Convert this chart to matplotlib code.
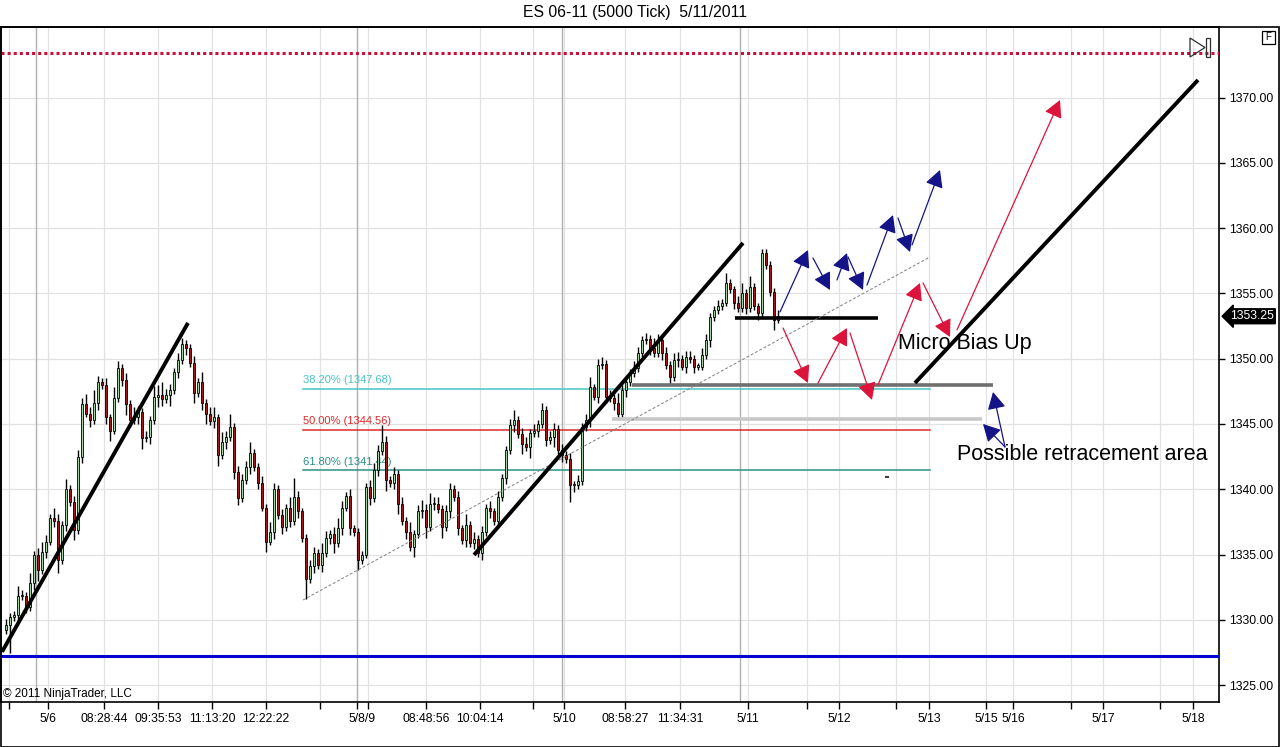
import matplotlib
matplotlib.use("Agg")
import matplotlib.pyplot as plt
from matplotlib.patches import Rectangle, Polygon
from matplotlib.transforms import blended_transform_factory
import numpy as np

plt.rcParams['font.family'] = ['Liberation Sans', 'DejaVu Sans']

# ---------------- data ----------------
title = "ES 06-11 (5000 Tick)  5/11/2011"

closes = [
    1329.6, 1330.2, 1330.4, 1331.8, 1331.8, 1331.0, 1332.8, 1335.0, 1333.8, 1335.2,
    1336.0, 1337.8, 1337.6, 1334.6, 1337.3, 1340.0, 1339.0, 1336.9, 1342.5, 1346.5,
    1345.8, 1345.3, 1346.6, 1348.2, 1348.0, 1345.5, 1344.5, 1347.0, 1349.3, 1348.4,
    1346.5, 1345.3, 1345.5, 1345.9, 1343.9, 1344.0, 1345.3, 1347.1, 1347.2, 1346.9,
    1347.2, 1347.6, 1349.0, 1349.9, 1351.1, 1350.8, 1349.7, 1347.4, 1348.2, 1346.6,
    1345.8, 1345.2, 1345.5, 1342.6, 1343.6, 1344.0, 1344.8, 1341.3, 1339.3, 1340.7,
    1341.7, 1342.8, 1341.7, 1340.5, 1338.6, 1336.0, 1336.7, 1340.0, 1338.0, 1337.1,
    1338.6, 1337.6, 1339.4, 1338.3, 1336.3, 1333.1, 1334.1, 1335.1, 1334.2, 1335.1,
    1336.3, 1336.6, 1335.9, 1337.0, 1338.6, 1339.5, 1337.0, 1336.7, 1334.6, 1335.0,
    1340.2, 1339.3, 1341.5, 1342.9, 1343.6, 1340.7, 1340.5, 1341.2, 1338.9, 1337.6,
    1336.7, 1335.6, 1336.6, 1338.3, 1338.4, 1337.1, 1338.9, 1338.9, 1338.5, 1337.1,
    1338.3, 1340.0, 1339.4, 1337.0, 1336.1, 1337.3, 1335.9, 1336.2, 1335.1, 1336.7,
    1338.6, 1338.3, 1337.6, 1339.4, 1340.9, 1343.0, 1344.9, 1345.3, 1344.2, 1343.5,
    1343.2, 1344.3, 1344.5, 1345.0, 1346.1, 1343.8, 1344.0, 1344.6, 1343.0, 1342.6,
    1342.3, 1340.3, 1340.3, 1340.6, 1344.8, 1345.3, 1347.8, 1347.1, 1349.5, 1349.6,
    1347.1, 1347.0, 1346.6, 1345.8, 1347.6, 1348.2, 1348.9, 1349.3, 1350.4, 1351.4,
    1351.5, 1350.8, 1350.4, 1351.4, 1350.4, 1349.5, 1348.6, 1349.9, 1350.0, 1349.4,
    1350.1, 1350.0, 1349.4, 1349.4, 1350.3, 1351.4, 1353.2, 1353.7, 1354.0, 1354.3,
    1355.8, 1355.3, 1354.3, 1353.9, 1355.0, 1353.9, 1355.5, 1354.0, 1353.5, 1358.1,
    1357.2, 1355.1, 1353.0, 1353.25,
]
first_open = 1329.2

wick_up = [
    0.5, 0.3, 0.3, 0.8, 0.5, 0.3, 0.8, 0.3, 0.5, 0.8,
    0.5, 0.3, 0.8, 0.5, 0.3, 0.8, 0.3, 0.5, 0.5, 0.5,
    0.8, 0.5, 1.0, 0.5, 0.3, 0.5, 0.3, 0.8, 0.5, 0.3,
    0.5, 0.3, 0.8, 0.5, 0.3, 0.5, 0.3, 0.8, 0.8, 1.0,
    0.5, 0.5, 0.3, 0.5, 0.5, 0.3, 0.3, 0.5, 0.3, 0.8,
    0.3, 0.5, 0.8, 0.3, 0.8, 0.5, 1.0, 0.3, 0.5, 0.5,
    0.5, 0.8, 0.3, 0.3, 0.5, 0.3, 0.8, 0.5, 0.3, 0.5,
    0.3, 0.8, 1.5, 0.5, 0.3, 0.3, 0.5, 0.5, 0.3, 0.8,
    0.5, 0.3, 0.5, 0.8, 0.5, 0.3, 0.5, 0.3, 0.3, 0.3,
    0.3, 0.5, 0.5, 0.5, 1.3, 0.5, 0.3, 0.5, 0.3, 0.5,
    0.3, 0.8, 0.3, 0.5, 0.8, 0.5, 0.8, 0.5, 0.5, 0.3,
    0.5, 0.5, 0.3, 0.5, 0.3, 0.8, 0.3, 0.5, 0.3, 0.5,
    0.3, 0.5, 0.3, 0.5, 0.3, 0.3, 0.5, 0.8, 0.3, 0.5,
    0.5, 0.3, 0.5, 0.3, 0.5, 0.3, 0.5, 0.5, 0.3, 0.5,
    0.3, 0.5, 0.3, 0.5, 0.3, 0.5, 0.8, 0.3, 0.5, 0.5,
    0.3, 0.5, 0.3, 0.8, 0.5, 0.5, 0.3, 0.5, 0.5, 0.3,
    0.5, 0.3, 0.8, 0.5, 0.3, 0.5, 0.3, 0.5, 0.5, 0.3,
    0.5, 0.5, 0.3, 0.3, 0.5, 0.5, 0.3, 0.3, 0.5, 0.3,
    0.8, 0.3, 0.3, 0.5, 0.8, 0.3, 0.8, 0.3, 0.3, 0.3,
    0.3, 0.3, 0.3, 0.5,
]
wick_dn = [
    0.3, 2.1, 0.3, 0.5, 0.3, 0.5, 0.3, 0.5, 0.8, 0.3,
    0.5, 0.3, 0.5, 1.0, 0.3, 0.5, 0.3, 0.8, 0.3, 0.5,
    0.3, 0.5, 0.3, 0.5, 0.3, 0.5, 0.8, 0.3, 0.3, 0.5,
    0.8, 0.5, 0.3, 0.5, 0.8, 0.3, 0.5, 0.3, 0.8, 0.5,
    0.3, 0.8, 0.3, 0.5, 0.3, 0.5, 0.3, 0.8, 0.3, 0.5,
    0.8, 0.3, 0.5, 0.8, 0.3, 0.5, 0.3, 0.5, 0.5, 0.3,
    0.3, 0.5, 0.3, 0.5, 0.3, 0.8, 0.3, 0.5, 0.3, 0.5,
    0.3, 0.5, 0.3, 0.5, 0.3, 1.5, 0.3, 0.5, 0.3, 0.5,
    0.3, 0.5, 0.8, 0.3, 0.5, 0.3, 0.5, 0.3, 0.8, 0.3,
    0.3, 0.5, 0.3, 0.5, 0.3, 0.8, 0.3, 0.5, 0.8, 0.3,
    0.5, 0.3, 0.8, 0.3, 0.5, 0.8, 0.3, 0.5, 0.3, 0.8,
    0.3, 0.5, 0.3, 0.5, 0.3, 0.5, 0.3, 0.5, 0.3, 0.5,
    0.3, 0.5, 0.3, 0.5, 0.3, 0.5, 0.3, 0.5, 0.3, 0.8,
    0.3, 0.8, 0.3, 0.5, 0.3, 0.5, 0.3, 0.8, 0.3, 0.5,
    0.3, 1.3, 0.5, 0.3, 0.3, 0.3, 0.5, 0.3, 0.5, 0.3,
    0.5, 0.3, 0.5, 0.3, 0.3, 0.5, 0.3, 0.3, 0.3, 0.3,
    0.3, 0.5, 0.3, 0.3, 0.5, 0.3, 0.5, 0.3, 0.5, 0.3,
    0.5, 0.3, 0.5, 0.3, 0.3, 0.3, 0.5, 0.3, 0.3, 0.3,
    0.3, 0.3, 0.5, 0.3, 0.3, 0.5, 0.3, 0.3, 0.5, 0.3,
    0.3, 0.3, 0.8, 0.3,
]

y_ticks = [1325, 1330, 1335, 1340, 1345, 1350, 1355, 1360, 1365, 1370]

# x ticks in bar-index units (the 5/8 and 5/9 labels touch in the original: "5/8/9")
x_tick_pos = [0.75, 10.5, 24.5, 38, 51.5, 65, 78.5, 87.75, 89.1, 90.5, 105, 118.5, 131.75,
              139.5, 154.75, 168.5, 185.5, 200.25, 208.25, 222.5, 230.75, 245,
              251.75, 266.25, 274.25, 288.5, 296.75]
x_tick_lab = ["", "5/6", "08:28:44", "09:35:53", "11:13:20", "12:22:22", "", "", "5/8/9", "",
              "08:48:56", "10:04:14", "", "5/10", "08:58:27", "11:34:31", "5/11", "",
              "5/12", "", "5/13", "5/15", "5/16", "", "5/17", "", "5/18"]
x_tick_len = [5, 5, 5, 5, 5, 5, 5, 5, 0, 5, 5, 5, 5, 5, 5, 5, 5, 5, 5, 5, 5, 5, 5, 5, 5, 5, 5]
session_breaks = [7.5, 87.75, 139.0, 183.5]

# Fibonacci retracement levels
fib_labels = ["38.20% (1347.68)", "50.00% (1344.56)", "61.80% (1341.44)"]
fib_prices = [1347.68, 1344.56, 1341.44]
fib_colors = ["#48c4c4", "#e02828", "#2a9088"]
fib_x = [74.25, 231.0]

# drawn lines: (x0, p0, x1, p1)
trend_lines = [(-1.0, 1327.55, 45.5, 1352.74),
               (117.0, 1334.97, 184.25, 1358.86),
               (227.25, 1348.14, 298.0, 1371.34)]
black_hline = (182.25, 218.0, 1353.12)
dark_gray_hline = (156.5, 246.75, 1348.0)
light_gray_hline = (151.5, 244.0, 1345.4)
dashed_line = (74.25, 1331.52, 231.0, 1357.79)
top_dotted_price = 1373.4
blue_line_price = 1327.24

blue_arrows = [(193.5, 1353.58, 200.5, 1358.32),
               (201.75, 1357.71, 206.0, 1355.26),
               (207.75, 1356.03, 210.25, 1358.09),
               (210.5, 1357.79, 214.25, 1355.26),
               (215.25, 1355.64, 221.75, 1361.00),
               (223.0, 1360.77, 226.0, 1358.17),
               (226.5, 1358.71, 233.5, 1364.45),
               (249.75, 1343.24, 246.75, 1347.45),
               (249.75, 1343.24, 244.25, 1345.00)]
red_arrows = [(194.25, 1352.35, 200.5, 1348.14),
              (203.0, 1348.14, 210.25, 1352.35),
              (211.0, 1351.97, 216.5, 1346.84),
              (218.0, 1347.99, 228.5, 1355.80),
              (229.25, 1355.80, 236.0, 1351.66),
              (237.75, 1352.20, 263.5, 1369.81)]

notes = [("Micro Bias Up", 223.0, 1351.2),
         ("Possible retracement area", 237.75, 1342.7)]

# ---------------- figure ----------------
W, H = 1280, 747
fig = plt.figure(figsize=(W / 100, H / 100), dpi=100)
fig.patch.set_facecolor("white")
ax = fig.add_axes([1 / W, 1 - 702 / H, 1218 / W, 675 / H])
ax.set_xlim(-1.25, 303.25)
ax.set_ylim(1323.71, 1375.40)

# grid
for p in y_ticks:
    ax.axhline(p, color="#e2e2e2", lw=0.9, zorder=0)
for xp, ln in zip(x_tick_pos, x_tick_len):
    if ln:
        ax.axvline(xp, color="#e2e2e2", lw=0.9, zorder=0)
for xp in session_breaks:
    ax.axvline(xp, color="#b0b0b0", lw=1.0, zorder=0)

# candles
closes_a = np.array(closes)
opens_a = np.concatenate([[first_open], closes_a[:-1]])
highs_a = np.maximum(opens_a, closes_a) + np.array(wick_up)
lows_a = np.minimum(opens_a, closes_a) - np.array(wick_dn)
idx = np.arange(len(closes_a))
ax.vlines(idx, lows_a, highs_a, color="black", lw=1.0, zorder=3)
up = closes_a >= opens_a
body_bot = np.minimum(opens_a, closes_a)
body_h = np.maximum(np.abs(closes_a - opens_a), 0.08)
ax.bar(idx[up], body_h[up], bottom=body_bot[up], width=0.74,
       color="#a4d4a4", edgecolor="black", linewidth=0.6, zorder=4)
ax.bar(idx[~up], body_h[~up], bottom=body_bot[~up], width=0.74,
       color="#a01818", edgecolor="black", linewidth=0.6, zorder=4)

# fib levels
for lab, pr, col in zip(fib_labels, fib_prices, fib_colors):
    ax.plot(fib_x, [pr, pr], color=col, lw=1.1, zorder=2)
    ax.text(fib_x[0], pr + 0.3, lab, color=col, fontsize=8, ha="left", va="bottom", zorder=2)

# horizontal levels
ax.plot([dark_gray_hline[0], dark_gray_hline[1]], [dark_gray_hline[2]] * 2,
        color="#707070", lw=2.6, solid_capstyle="butt", zorder=5)
ax.plot([light_gray_hline[0], light_gray_hline[1]], [light_gray_hline[2]] * 2,
        color="#c8c8c8", lw=2.6, solid_capstyle="butt", zorder=5)
ax.plot([black_hline[0], black_hline[1]], [black_hline[2]] * 2,
        color="black", lw=2.6, solid_capstyle="butt", zorder=5)

# dashed support line
ax.plot([dashed_line[0], dashed_line[2]], [dashed_line[1], dashed_line[3]],
        color="#808080", lw=0.7, ls=(0, (3, 2)), zorder=5)

# trend lines
for x0, p0, x1, p1 in trend_lines:
    ax.plot([x0, x1], [p0, p1], color="black", lw=2.8, solid_capstyle="butt", zorder=6)

# top dotted and bottom blue line
ax.axhline(top_dotted_price, color="#c8103c", lw=2.2, ls=(0, (1, 1)), zorder=5)
ax.axhline(blue_line_price, color="#0000d0", lw=2.2, zorder=5)

# arrows
def draw_arrows(lst, col):
    for x0, p0, x1, p1 in lst:
        ax.annotate("", xy=(x1, p1), xytext=(x0, p0),
                    arrowprops=dict(arrowstyle="-|>,head_length=0.75,head_width=0.4",
                                    mutation_scale=14, color=col, lw=0.9,
                                    shrinkA=0, shrinkB=0), zorder=7)

draw_arrows(blue_arrows, "#141488")
draw_arrows(red_arrows, "#dc143c")

# notes
for txt, xx, pp in notes:
    ax.text(xx, pp, txt, fontsize=15.5, ha="left", va="center", color="black", zorder=8)

# tiny mark
ax.plot([220.0, 220.5], [1340.93, 1340.93], color="#404040", lw=1.5, zorder=5)

# axes styling
for s in ["left", "top", "right", "bottom"]:
    ax.spines[s].set_color("black")
    ax.spines[s].set_linewidth(1.2)
ax.yaxis.tick_right()
ax.set_yticks(y_ticks)
ax.set_yticklabels([f"{v:.2f}" for v in y_ticks])
ax.tick_params(axis="y", direction="out", length=4, width=1, labelsize=8.8, pad=3, colors="black")
ax.set_xticks(x_tick_pos)
ax.set_xticklabels(x_tick_lab)
ax.tick_params(axis="x", direction="out", length=5, width=1, labelsize=8.8, pad=3, colors="black")
for t, ln in zip(ax.xaxis.get_major_ticks(), x_tick_len):
    if not ln:
        t.tick1line.set_visible(False)
        t.label1.set_y(t.label1.get_position()[1])

# current price tag
tr = blended_transform_factory(ax.transAxes, ax.transData)
ax.text(1.0090, closes[-1], f"{closes[-1]:.2f}", transform=tr, color="white", fontsize=8.8,
        ha="left", va="center", clip_on=False, zorder=10,
        bbox=dict(boxstyle="larrow,pad=0.12", fc="black", ec="black"))

# title & copyright
fig.text(635 / W, 1 - 13 / H, title, ha="center", va="center", fontsize=11.3)
fig.text(3 / W, 1 - 694 / H, "\u00a9 2011 NinjaTrader, LLC", ha="left", va="center", fontsize=8.5)

# outer frame
fig.add_artist(Rectangle((0.5 / W, 1 - 746.5 / H), 1278.5 / W, (746.5 - 27) / H,
                         transform=fig.transFigure, fill=False, ec="black", lw=1.2))

# "F" box
fig.add_artist(Rectangle((1262 / W, 1 - 44 / H), 13 / W, 13 / H, transform=fig.transFigure,
                         fill=False, ec="black", lw=0.9))
fig.text(1268.5 / W, 1 - 37.5 / H, "F", ha="center", va="center", fontsize=7)

# scroll-to-end icon
fig.add_artist(Polygon([(1190 / W, 1 - 38 / H), (1190 / W, 1 - 57 / H), (1205 / W, 1 - 47.5 / H)],
                       closed=True, transform=fig.transFigure, fill=False, ec="#303030", lw=0.9))
fig.add_artist(Rectangle((1206 / W, 1 - 57 / H), 4 / W, 19 / H, transform=fig.transFigure,
                         fill=False, ec="#303030", lw=0.9))

fig.savefig("out.png", dpi=100)
